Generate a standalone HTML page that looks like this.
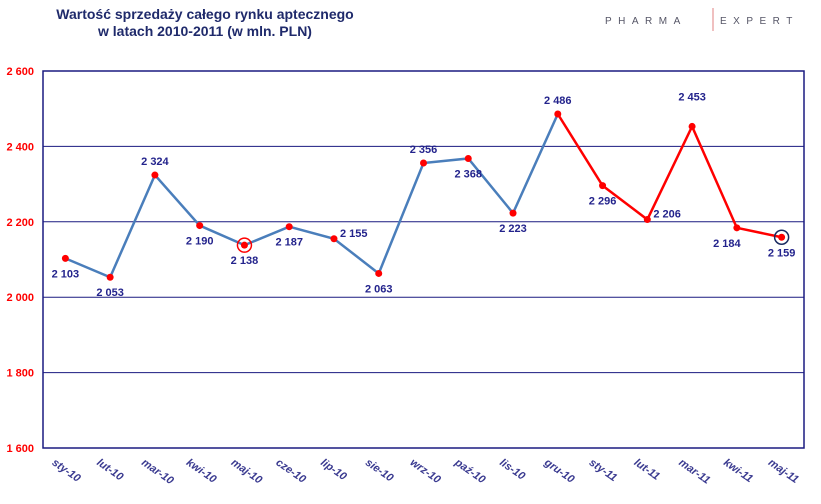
<!DOCTYPE html>
<html><head><meta charset="utf-8"><style>
body{margin:0;background:#fff;}
svg text{font-family:"Liberation Sans",sans-serif;}
</style></head><body>
<svg id="c" width="821" height="499" viewBox="0 0 821 499">
<text x="205" y="19" text-anchor="middle" font-size="14" font-weight="bold" fill="#1f2a6b">Wartość sprzedaży całego rynku aptecznego</text>
<text x="205" y="36" text-anchor="middle" font-size="14" font-weight="bold" fill="#1f2a6b">w latach  2010-2011 (w mln. PLN)</text>
<text x="605" y="24" font-size="10" fill="#556" letter-spacing="6.5">PHARMA</text>
<line x1="713" y1="8" x2="713" y2="31" stroke="#e08080" stroke-width="1"/>
<text x="720" y="24" font-size="10" fill="#556" letter-spacing="6.5">EXPERT</text>
<g id="g"></g>
</svg>
<script>
const categories=["sty-10","lut-10","mar-10","kwi-10","maj-10","cze-10","lip-10","sie-10","wrz-10","paź-10","lis-10","gru-10","sty-11","lut-11","mar-11","kwi-11","maj-11"];
const values=[2103,2053,2324,2190,2138,2187,2155,2063,2356,2368,2223,2486,2296,2206,2453,2184,2159];
const labelText=["2 103","2 053","2 324","2 190","2 138","2 187","2 155","2 063","2 356","2 368","2 223","2 486","2 296","2 206","2 453","2 184","2 159"];
const placement=["b","b","a","b","b","b","r","b","a","b","b","a","b","r","aa","bl","b"];
const yTicks=[1600,1800,2000,2200,2400,2600];
const yTickLabels=["1 600","1 800","2 000","2 200","2 400","2 600"];
const redStart=11;
const highlighted=[4,16];
const L=43,R=804,T=71,B=448,yMin=1600,yMax=2600;
const step=(R-L)/categories.length;
const x=i=>L+step*(i+0.5);
const y=v=>B-(v-yMin)/(yMax-yMin)*(B-T);
const g=document.getElementById('g');
const NS="http://www.w3.org/2000/svg";
function mk(t,a){const e=document.createElementNS(NS,t);for(const k in a)e.setAttribute(k,a[k]);g.appendChild(e);return e;}
yTicks.forEach((v,i)=>{
 if(v>yMin&&v<yMax){const l=mk('line',{x1:L,x2:R,y1:y(v),y2:y(v),stroke:'#1a1a80','stroke-width':1});
 
 }
 const t=mk('text',{x:34,y:y(v)+4,'text-anchor':'end','font-size':11,'font-weight':'bold',fill:'#ff0000'});
 t.textContent=yTickLabels[i];
 
 
});
const fr=mk('rect',{x:L,y:T,width:R-L,height:B-T,fill:'none',stroke:'#1a1a80','stroke-width':1.5});


categories.forEach((c,i)=>{
 const t=mk('text',{x:x(i)-14,y:B+16,'font-size':11,'font-weight':'bold','font-style':'italic',fill:'#3a3a90',transform:`rotate(35 ${x(i)-14} ${B+16})`});
 t.textContent=c;
 
 
});
const pts=values.map((v,i)=>[x(i),y(v)]);
const bl=mk('polyline',{points:pts.slice(0,redStart+1).map(p=>p.join(',')).join(' '),fill:'none',stroke:'#4a7ebb','stroke-width':2.5});


const rl=mk('polyline',{points:pts.slice(redStart).map(p=>p.join(',')).join(' '),fill:'none',stroke:'#ff0000','stroke-width':2.5});


highlighted.forEach((i,k)=>{
 const c=mk('circle',{cx:pts[i][0],cy:pts[i][1],r:7,fill:'none',stroke:k==0?'#ff0000':'#1a2a60','stroke-width':1.5});
 
 
});
pts.forEach((p,i)=>{
 const d=mk('circle',{cx:p[0],cy:p[1],r:3.5,fill:'#ff0000'});
 
 
 let dx=0,dy=19,a='middle';
 if(placement[i]=='a'){dy=-10;}
 if(placement[i]=='aa'){dy=-26;}
 if(placement[i]=='r'){dx=6;dy=-2;a='start';}
 if(placement[i]=='bl'){dx=-10;dy=19;}
 const t=mk('text',{x:p[0]+dx,y:p[1]+dy,'text-anchor':a,'font-size':11,'font-weight':'bold',fill:'#23238c'});
 t.textContent=labelText[i];
 
 
});
</script>
</body></html>
